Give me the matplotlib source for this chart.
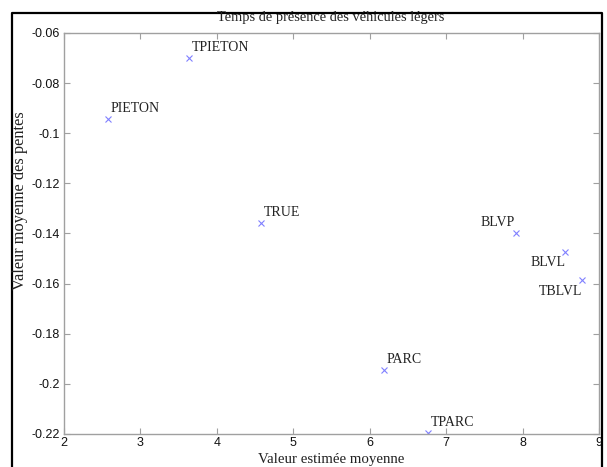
import matplotlib
matplotlib.use("Agg")
import matplotlib.pyplot as plt
from matplotlib.lines import Line2D

# mean estimated value vs mean slope, one point per category
names = ["PIETON", "TPIETON", "TRUE", "PARC", "TPARC", "BLVP", "BLVL", "TBLVL"]
x_vals = [2.57, 3.63, 4.58, 6.19, 6.76, 7.91, 8.56, 8.78]
y_vals = [-0.0944, -0.0700, -0.1360, -0.1945, -0.2198, -0.1400, -0.1475, -0.1585]

# label placement (offset in points, alignment)
label_pos = {
    "BLVP": ((-1, 3), "right", "bottom"),
    "BLVL": ((0, -3), "right", "top"),
    "TBLVL": ((0, -4), "right", "top"),
}

fig = plt.figure(figsize=(6.07, 4.67), dpi=100)
ax = fig.add_axes([0.1054, 0.0707, 0.8814, 0.8587])

ax.plot(x_vals, y_vals, linestyle="none", marker="x", color="#8080ff",
        markersize=4.5, markeredgewidth=0.8)

for n, xv, yv in zip(names, x_vals, y_vals):
    off, ha, va = label_pos.get(n, ((2, 3), "left", "bottom"))
    ax.annotate(n, (xv, yv), xytext=off, textcoords="offset points",
                ha=ha, va=va, family="Liberation Serif", fontsize=10,
                color="#222222", annotation_clip=False)

ax.set_xlim(2, 9)
ax.set_ylim(-0.22, -0.06)
ax.set_xticks([2, 3, 4, 5, 6, 7, 8, 9])
ax.set_yticks([-0.22, -0.2, -0.18, -0.16, -0.14, -0.12, -0.1, -0.08, -0.06])
ax.set_yticklabels(["-0.22", "-0.2", "-0.18", "-0.16", "-0.14", "-0.12", "-0.1", "-0.08", "-0.06"])

for s in ax.spines.values():
    s.set_color("#a0a0a0")
    s.set_linewidth(1.0)
ax.tick_params(direction="in", length=4, width=0.8, color="#a0a0a0",
               top=True, right=True, labelsize=9, labelcolor="#111111")
ax.tick_params(axis="x", pad=2)
ax.tick_params(axis="y", pad=3)
for lab in ax.get_xticklabels() + ax.get_yticklabels():
    lab.set_family("Liberation Sans")

fig.text(0.5453, 1 - 18 / 467, "Temps de présence des véhicules légers",
         ha="center", va="center", family="Liberation Serif", fontsize=10.4,
         color="#222222")
fig.text(331 / 607, 1 - 459 / 467, "Valeur estimée moyenne",
         ha="center", va="center", family="Liberation Serif", fontsize=10.7,
         color="#222222")
fig.text(20 / 607, 1 - 201 / 467, "Valeur moyenne des pentes",
         ha="center", va="center", rotation=90, family="Liberation Serif",
         fontsize=11.8, color="#222222")

# black frame around the figure (open at the bottom)
xl, xr, yt = 12.5 / 607, 602 / 607, 1 - 12.5 / 467
fig.add_artist(Line2D([xl, xl, xr, xr], [0, yt, yt, 0], color="black",
                      linewidth=1.6, transform=fig.transFigure))

fig.savefig("out.png", dpi=100)
